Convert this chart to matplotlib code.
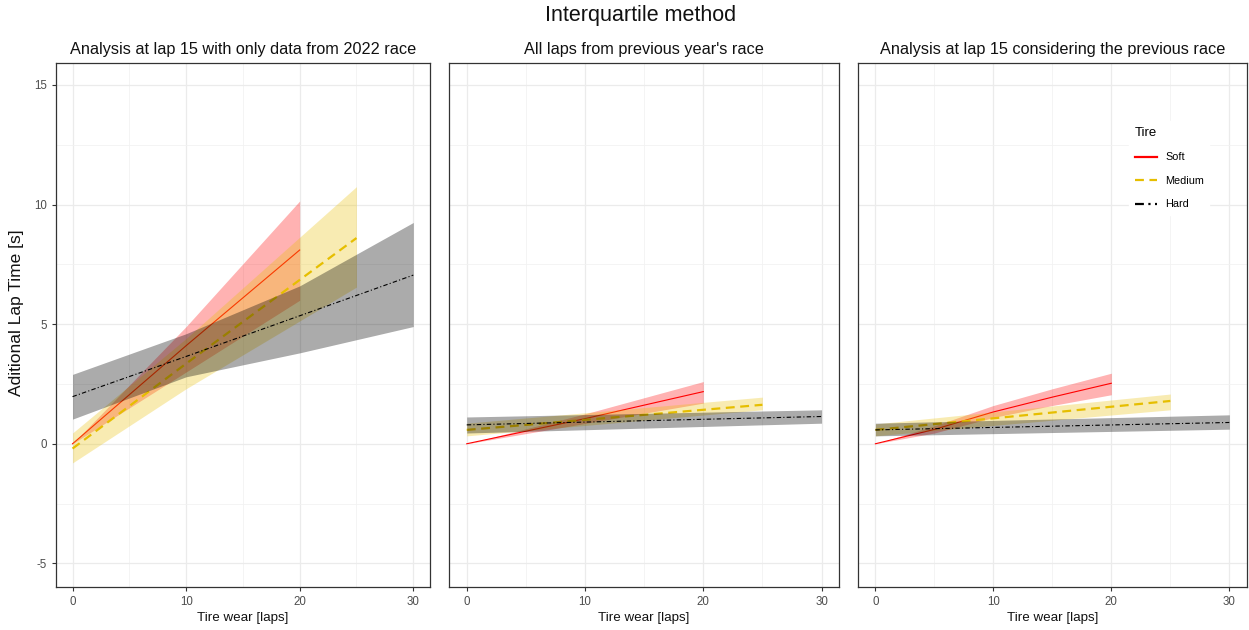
import matplotlib.pyplot as plt

plt.rcParams['font.family'] = ['Liberation Sans', 'DejaVu Sans']
plt.rcParams['axes.unicode_minus'] = False

# --- data ---
titles = ["Analysis at lap 15 with only data from 2022 race",
          "All laps from previous year's race",
          "Analysis at lap 15 considering the previous race"]
tires = ["Soft", "Medium", "Hard"]

# panel 1: only 2022 data
p1_soft_x = [0, 10, 20]
p1_soft_fit = [0.0, 4.1, 8.1]
p1_soft_lo = [0.0, 3.0, 6.0]
p1_soft_hi = [0.0, 4.9, 10.15]
p1_med_x = [0, 10, 25]
p1_med_fit = [-0.2, 3.35, 8.6]
p1_med_lo = [-0.8, 2.3, 6.55]
p1_med_hi = [0.45, 4.4, 10.75]
p1_hard_x = [0, 10, 20, 30]
p1_hard_fit = [1.97, 3.65, 5.35, 7.05]
p1_hard_lo = [1.03, 2.8, 3.8, 4.9]
p1_hard_hi = [2.9, 4.6, 6.6, 9.25]

# panel 2: all laps previous year
p2_soft_x = [0, 10, 20]
p2_soft_fit = [0.0, 1.05, 2.18]
p2_soft_lo = [0.0, 0.85, 1.7]
p2_soft_hi = [0.0, 1.25, 2.6]
p2_med_x = [0, 25]
p2_med_fit = [0.58, 1.63]
p2_med_lo = [0.33, 1.42]
p2_med_hi = [0.86, 1.95]
p2_hard_x = [0, 30]
p2_hard_fit = [0.79, 1.14]
p2_hard_lo = [0.45, 0.86]
p2_hard_hi = [1.12, 1.42]

# panel 3: lap 15 plus previous race
p3_soft_x = [0, 5, 10, 15, 20]
p3_soft_fit = [0.0, 0.6, 1.33, 1.95, 2.53]
p3_soft_lo = [0.0, 0.45, 1.1, 1.6, 2.05]
p3_soft_hi = [0.0, 0.75, 1.6, 2.3, 2.95]
p3_med_x = [0, 25]
p3_med_fit = [0.58, 1.79]
p3_med_lo = [0.33, 1.42]
p3_med_hi = [0.83, 2.08]
p3_hard_x = [0, 30]
p3_hard_fit = [0.58, 0.89]
p3_hard_lo = [0.33, 0.61]
p3_hard_hi = [0.86, 1.21]

panels = [
    [(p1_soft_x, p1_soft_fit, p1_soft_lo, p1_soft_hi),
     (p1_med_x, p1_med_fit, p1_med_lo, p1_med_hi),
     (p1_hard_x, p1_hard_fit, p1_hard_lo, p1_hard_hi)],
    [(p2_soft_x, p2_soft_fit, p2_soft_lo, p2_soft_hi),
     (p2_med_x, p2_med_fit, p2_med_lo, p2_med_hi),
     (p2_hard_x, p2_hard_fit, p2_hard_lo, p2_hard_hi)],
    [(p3_soft_x, p3_soft_fit, p3_soft_lo, p3_soft_hi),
     (p3_med_x, p3_med_fit, p3_med_lo, p3_med_hi),
     (p3_hard_x, p3_hard_fit, p3_hard_lo, p3_hard_hi)],
]

# styles per tire
line_colors = ['#FF0000', '#E6BE00', '#000000']
fill_colors = ['#FF0000', '#EAC000', '#000000']
fill_alpha = [0.3, 0.3, 0.33]
line_styles = ['-', (0, (4, 2.5)), (0, (4, 2, 1, 2))]
line_widths = [0.8, 1.6, 0.8]

W, H = 1249, 630
fig = plt.figure(figsize=(W / 100, H / 100), dpi=100)

# panel boxes in pixels: left, right
boxes = [(55.5, 430.3), (449, 839.3), (857.7, 1247)]
top_px, bot_px = 62.7, 587.3

axes = []
for i, (l, r) in enumerate(boxes):
    ax = fig.add_axes([l / W, 1 - bot_px / H, (r - l) / W, (bot_px - top_px) / H])
    axes.append(ax)

    # ribbon then line for each tire, so later ribbons cover earlier lines
    for j, (x, fit, lo, hi) in enumerate(panels[i]):
        ax.fill_between(x, lo, hi, color=fill_colors[j], alpha=fill_alpha[j],
                        linewidth=0, zorder=2)
        ax.plot(x, fit, color=line_colors[j], linestyle=line_styles[j],
                linewidth=line_widths[j], label=tires[j], zorder=2)

    ax.set_xlim(-1.5, 31.5)
    ax.set_ylim(-6.0, 15.93)
    ax.set_xticks([0, 10, 20, 30])
    ax.set_xticks([5, 15, 25], minor=True)
    ax.set_yticks([-5, 0, 5, 10, 15])
    ax.set_yticks([-2.5, 2.5, 7.5, 12.5], minor=True)
    ax.grid(True, which='major', color='#EBEBEB', linewidth=0.9, zorder=0)
    ax.grid(True, which='minor', color='#F2F2F2', linewidth=0.6, zorder=0)
    ax.set_axisbelow(True)
    for s in ax.spines.values():
        s.set_color('#333333')
        s.set_linewidth(0.9)
    ax.tick_params(which='major', length=3, width=0.8, color='#333333',
                   labelcolor='#4D4D4D', labelsize=8.3, pad=3)
    ax.tick_params(which='minor', length=0)
    if i > 0:
        ax.tick_params(axis='y', which='both', left=False, labelleft=False)
    ax.set_title(titles[i], fontsize=11.7, color='#111111', pad=6)
    ax.set_xlabel('Tire wear [laps]', fontsize=9.6, color='#111111', labelpad=3)

fig.text(17 / W, 1 - 313 / H, 'Aditional Lap Time [s]', rotation=90,
         ha='center', va='center', fontsize=12.5, color='#111111')
fig.text(641 / W, 1 - 15 / H, 'Interquartile method', ha='center', va='center',
         fontsize=15.5, color='#111111')

leg = axes[2].legend(loc='upper left', bbox_to_anchor=(1124 / W, 1 - 116 / H),
                     bbox_transform=fig.transFigure, title='Tire', fontsize=7.8,
                     title_fontsize=9.5, frameon=True, handlelength=2.0,
                     labelspacing=1.25, borderpad=0.5)
leg.get_frame().set_edgecolor('white')
leg.get_frame().set_facecolor('white')
leg.get_frame().set_alpha(1)
leg._legend_box.align = 'left'
for h in leg.get_lines():
    h.set_linewidth(1.6)

fig.savefig('out.png', dpi=100)
